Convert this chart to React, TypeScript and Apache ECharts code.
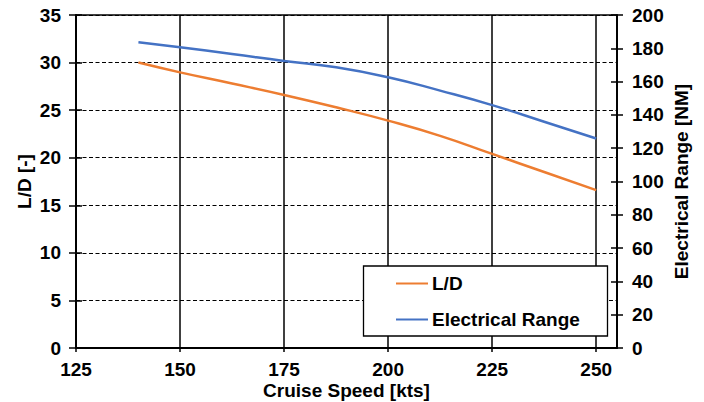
import React, { useEffect, useRef } from "react";
import * as echarts from "echarts";

const speeds = [140, 150, 162.5, 175, 187.5, 200, 212.5, 225, 237.5, 250];
const liftToDrag = [30.0, 28.97, 27.8, 26.6, 25.3, 23.9, 22.3, 20.4, 18.5, 16.6];
const electricalRange = [183.6, 180.6, 176.6, 172.4, 168.6, 162.6, 154.6, 145.9, 135.9, 125.8];

const xTicks = { min: 125, max: 255, interval: 25 };
const leftTicks = { min: 0, max: 35, interval: 5 };
const rightTicks = { min: 0, max: 200, interval: 20 };

const seriesNames = ["L/D", "Electrical Range"];
const xName = "Cruise Speed [kts]";
const leftName = "L/D [-]";
const rightName = "Electrical Range [NM]";

const FONT = "'Liberation Sans', Arial, sans-serif";
const txt = { color: "#000", fontFamily: FONT, fontWeight: "bold" as const, fontSize: 19 };

export default function App() {
  const ref = useRef<HTMLDivElement>(null);
  useEffect(() => {
    if (!ref.current) return;
    const chart = echarts.init(ref.current, undefined, { renderer: "svg" });
    chart.setOption({
      animation: false,
      backgroundColor: "#fff",
      grid: {
        left: 76,
        right: 87,
        top: 15,
        bottom: 54,
        containLabel: false,
        outerBoundsMode: "none",
        show: true,
        borderColor: "#000",
        borderWidth: 1.5,
        backgroundColor: "transparent",
      },
      xAxis: {
        type: "value",
        ...xTicks,
        name: xName,
        nameLocation: "middle",
        nameGap: 33,
        nameMoveOverlap: false,
        nameTextStyle: { ...txt, lineHeight: 19 },
        axisLine: { show: true, lineStyle: { color: "#000", width: 2 } },
        axisTick: { show: true, length: 4, lineStyle: { color: "#000", width: 1.5 } },
        axisLabel: { ...txt, margin: 12, showMaxLabel: false },
        splitLine: { show: true, lineStyle: { color: "#000", width: 1.5, type: "solid" } },
      },
      yAxis: [
        {
          type: "value",
          position: "left",
          ...leftTicks,
          name: leftName,
          nameLocation: "middle",
          nameRotate: 90,
          nameGap: 42,
          nameMoveOverlap: false,
          nameTextStyle: { ...txt, lineHeight: 19 },
          axisLine: { show: true, lineStyle: { color: "#000", width: 2 } },
          axisTick: { show: true, length: 7, lineStyle: { color: "#000", width: 1.5 } },
          axisLabel: { ...txt, margin: 15 },
          splitLine: { show: true, lineStyle: { color: "#000", width: 1.2, type: [4, 2.5] } },
        },
        {
          type: "value",
          position: "right",
          ...rightTicks,
          name: rightName,
          nameLocation: "middle",
          nameRotate: 90,
          nameGap: 55,
          nameMoveOverlap: false,
          nameTextStyle: { ...txt, lineHeight: 19 },
          axisLine: { show: true, lineStyle: { color: "#000", width: 1.5 } },
          axisTick: { show: true, length: 6, lineStyle: { color: "#000", width: 1.5 } },
          axisLabel: { ...txt, margin: 15 },
          splitLine: { show: false },
        },
        {
          type: "value",
          position: "left",
          ...leftTicks,
          axisLine: { show: false },
          axisTick: { show: true, inside: true, length: 6, lineStyle: { color: "#000", width: 1.5 } },
          axisLabel: { show: false },
          splitLine: { show: false },
        },
        {
          type: "value",
          position: "right",
          ...rightTicks,
          axisLine: { show: false },
          axisTick: { show: true, inside: true, length: 6, lineStyle: { color: "#000", width: 1.5 } },
          axisLabel: { show: false },
          splitLine: { show: false },
        },
      ],
      legend: {
        show: true,
        orient: "vertical",
        left: 395,
        top: 274,
        padding: 0,
        itemGap: 17,
        itemWidth: 32,
        itemHeight: 19,
        data: seriesNames,
        itemStyle: { color: "transparent", borderColor: "transparent", borderWidth: 0, opacity: 0 },
        textStyle: { ...txt, lineHeight: 19, padding: [0, 0, 0, -1] },
        z: 12,
      },
      graphic: [
        {
          type: "rect",
          z: 10,
          shape: { x: 363.5, y: 266, width: 244, height: 70 },
          style: { fill: "#fff", stroke: "#000", lineWidth: 1.3 },
        },
      ],
      series: [
        {
          name: seriesNames[0],
          type: "line",
          yAxisIndex: 0,
          data: speeds.map((s, i) => [s, liftToDrag[i]]),
          smooth: 0.5,
          symbol: "none",
          lineStyle: { color: "#ED7D31", width: 2.5 },
          itemStyle: { color: "#ED7D31" },
          z: 5,
        },
        {
          name: seriesNames[1],
          type: "line",
          yAxisIndex: 1,
          data: speeds.map((s, i) => [s, electricalRange[i]]),
          smooth: 0.5,
          symbol: "none",
          lineStyle: { color: "#4472C4", width: 2.5 },
          itemStyle: { color: "#4472C4" },
          z: 5,
        },
      ],
    });
    return () => chart.dispose();
  }, []);
  return (
    <div
      ref={ref}
      style={{ position: "fixed", left: 0, top: 0, width: 704, height: 402, background: "#fff" }}
    />
  );
}
